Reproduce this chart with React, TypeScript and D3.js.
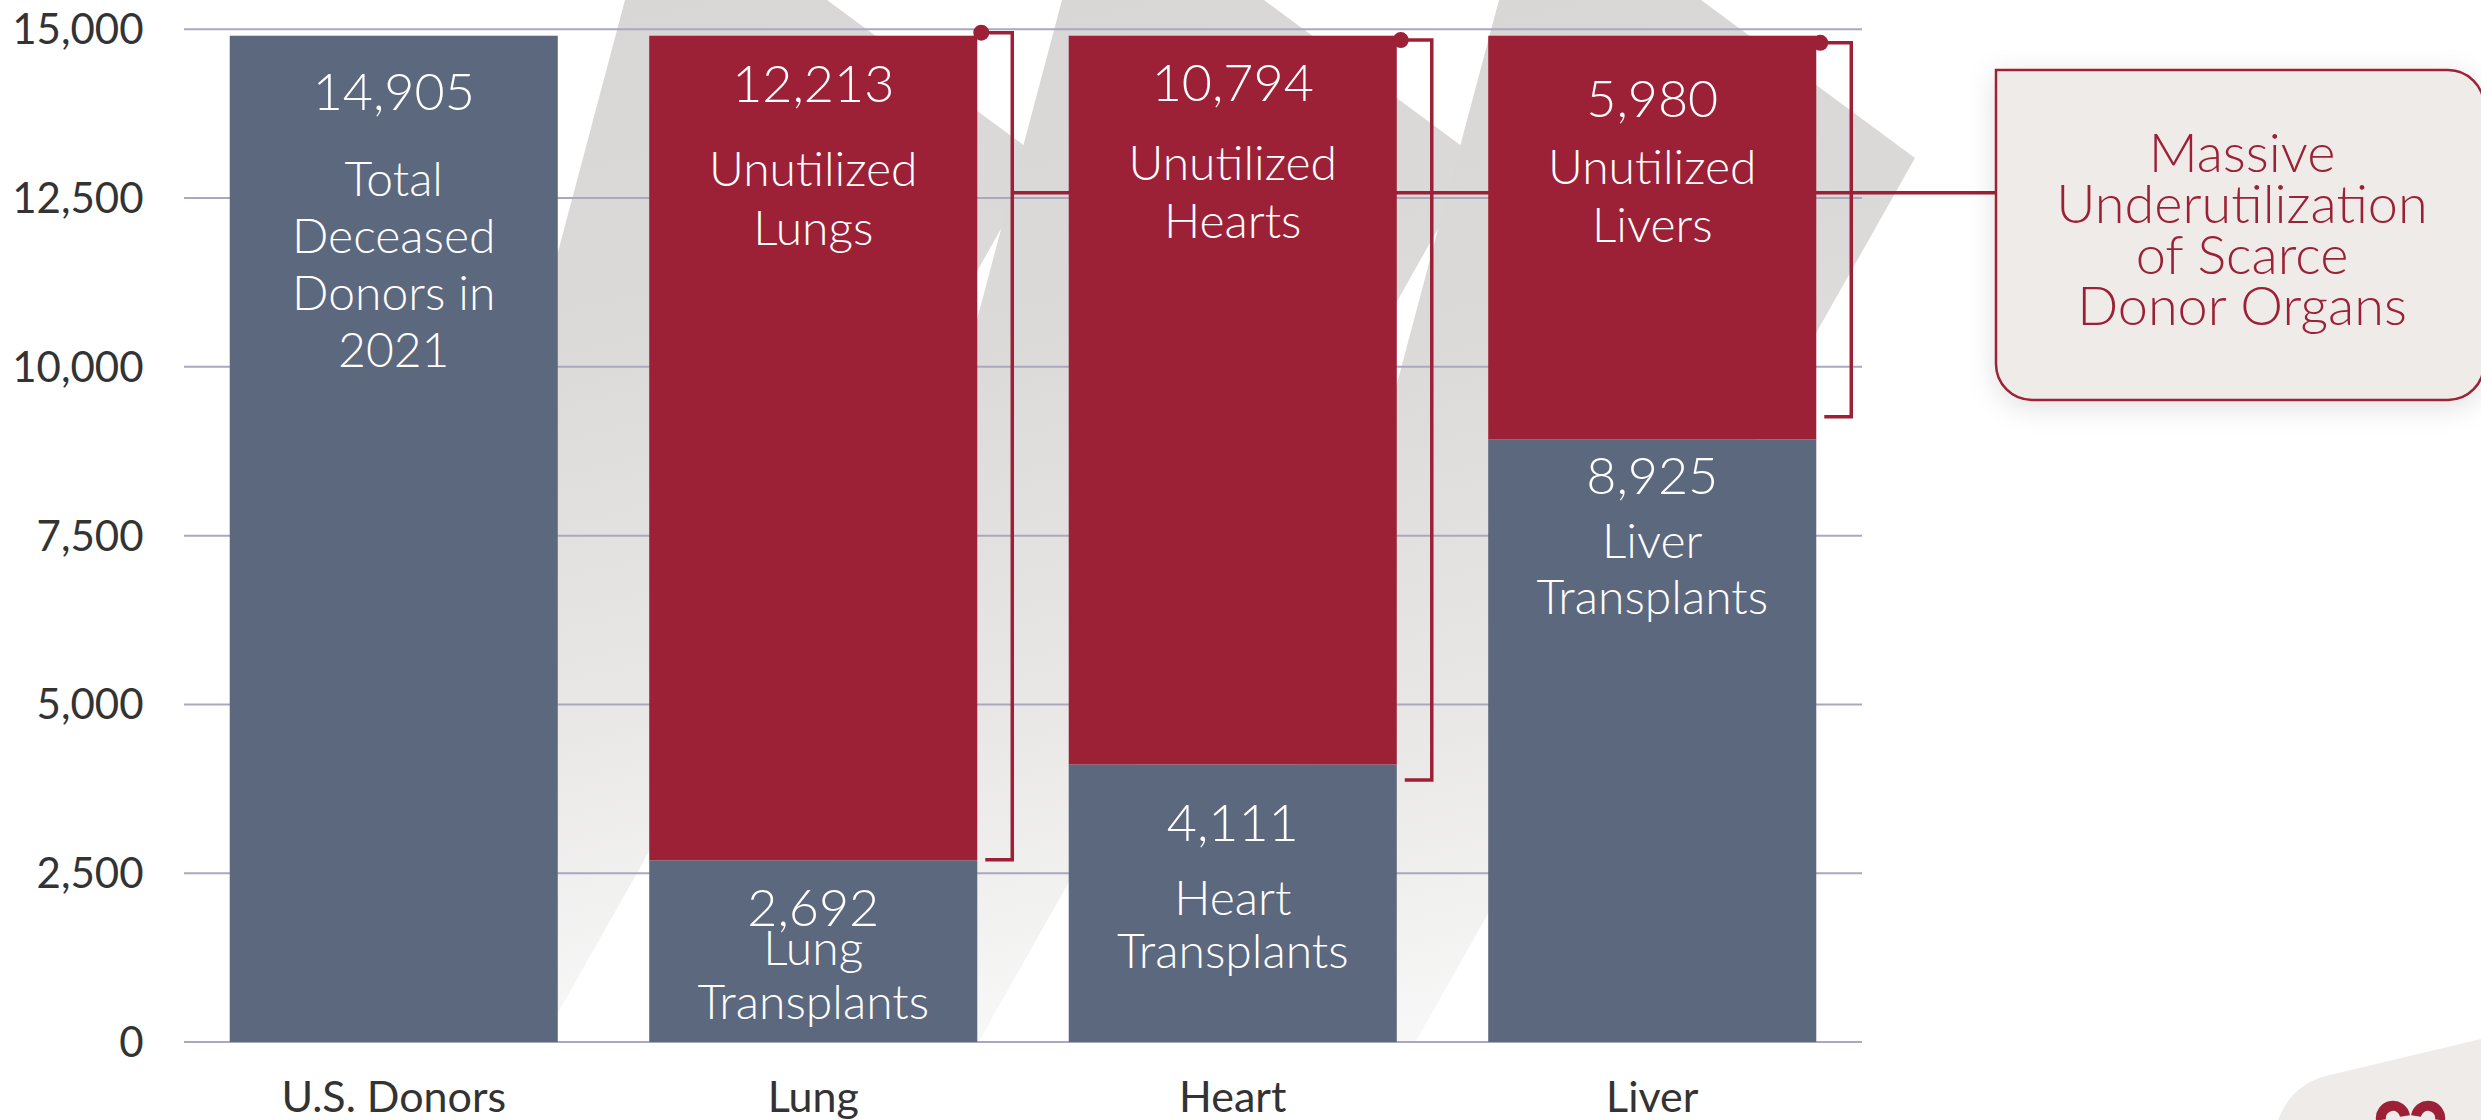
import React, { useEffect, useRef } from 'react'
import * as d3 from 'd3'

// data
const categories = ['U.S. Donors', 'Lung', 'Heart', 'Liver']
const transplanted = [14905, 2692, 4111, 8925]
const unutilized = [0, 12213, 10794, 5980]
const baseLabels = [
  ['Total', 'Deceased', 'Donors in', '2021'],
  ['Lung', 'Transplants'],
  ['Heart', 'Transplants'],
  ['Liver', 'Transplants']
]
const topLabels = [[], ['Unutilized', 'Lungs'], ['Unutilized', 'Hearts'], ['Unutilized', 'Livers']]
const yTicks = [0, 2500, 5000, 7500, 10000, 12500, 15000]

// brackets on the organ bars, in donor units
const bracketTop = [14950, 14840, 14800]
const bracketBottom = [2700, 3880, 9260]
const linkValue = 12580
const calloutLines = ['Massive', 'Underutilization', 'of Scarce', 'Donor Organs']

const W = 2481
const H = 1120
const BLUE = '#5c687e'
const RED = '#9c2136'
const GRID = '#aaa8c0'
const INK = '#333'
const FONT = 'Lato, "Noto Sans", sans-serif'

// where the white labels sit, measured from the top of their segment
const baseLayout = [
  { num: 74, first: 86, gap: 57 },
  { num: 66, first: 39, gap: 54 },
  { num: 77, first: 74, gap: 53 },
  { num: 55, first: 64, gap: 56 }
]
const topLayout = [null, { num: 66, first: 84, gap: 59 }, { num: 65, first: 79, gap: 58 }, { num: 81, first: 67, gap: 58 }]

function drawChart(node: SVGSVGElement) {
  const svg = d3.select(node)
  svg.selectAll('*').remove()

  const x = d3.scaleBand<string>()
    .domain(categories)
    .range([184, 1862])
    .paddingInner(0.218)
    .paddingOuter(0.109)
  const y = d3.scaleLinear().domain([0, 15000]).range([1042, 29.3])
  const bw = x.bandwidth()

  const table = categories.map((c, i) => ({ cat: c, base: transplanted[i], unused: unutilized[i] }))
  const series = d3.stack<any>().keys(['base', 'unused'])(table)

  const defs = svg.append('defs')

  // background chevron stripes
  const stripes = [0, 1, 2].map(i => {
    const L = 625 + 437 * i
    const R = L + 202
    return { L, R, i }
  })
  stripes.forEach(s => {
    const g = defs.append('linearGradient')
      .attr('id', `stripe${s.i}`)
      .attr('gradientUnits', 'userSpaceOnUse')
      .attr('x1', s.L).attr('y1', 0)
      .attr('x2', s.L + 250).attr('y2', 1042)
    g.append('stop').attr('offset', 0).attr('stop-color', '#d9d7d5')
    g.append('stop').attr('offset', 0.3).attr('stop-color', '#dcdad9')
    g.append('stop').attr('offset', 0.65).attr('stop-color', '#e9e8e7')
    g.append('stop').attr('offset', 1).attr('stop-color', '#fcfcfc')
  })
  const shadow = defs.append('filter').attr('id', 'boxShadow')
    .attr('x', '-20%').attr('y', '-20%').attr('width', '140%').attr('height', '140%')
  shadow.append('feDropShadow')
    .attr('dx', 0).attr('dy', 6).attr('stdDeviation', 14)
    .attr('flood-color', '#000').attr('flood-opacity', 0.12)

  const bottom = y(0)
  svg.append('g')
    .selectAll('polygon')
    .data(stripes)
    .join('polygon')
    .attr('points', s => {
      const tipX = s.R + 214
      const tipY = 158
      const pts = [
        [s.L, 0], [s.R, 0], [tipX, tipY],
        [tipX - 0.565 * (bottom - tipY), bottom],
        [s.L - 0.266 * bottom, bottom]
      ]
      return pts.map(p => p.join(',')).join(' ')
    })
    .attr('fill', s => `url(#stripe${s.i})`)

  // gridlines
  svg.append('g')
    .selectAll('line')
    .data(yTicks)
    .join('line')
    .attr('x1', 184).attr('x2', 1862)
    .attr('y1', d => y(d)).attr('y2', d => y(d))
    .attr('stroke', GRID).attr('stroke-width', 2)

  // y tick labels
  svg.append('g')
    .selectAll('text')
    .data(yTicks)
    .join('text')
    .attr('x', 143.5)
    .attr('y', d => y(d) + 15)
    .attr('text-anchor', 'end')
    .attr('font-family', FONT)
    .attr('font-size', 42)
    .attr('fill', INK)
    .text(d => d3.format(',')(d))

  // callout box
  const bx0 = 1996, by0 = 70, bx1 = 2484, by1 = 400, r = 36
  const linkY = y(linkValue)
  svg.append('line')
    .attr('x1', x('Lung')! + bw + 35).attr('x2', bx0)
    .attr('y1', linkY).attr('y2', linkY)
    .attr('stroke', RED).attr('stroke-width', 3.5)

  svg.append('path')
    .attr('d', `M${bx0},${by0} H${bx1 - r} A${r},${r} 0 0 1 ${bx1},${by0 + r} V${by1 - r} A${r},${r} 0 0 1 ${bx1 - r},${by1} H${bx0 + r} A${r},${r} 0 0 1 ${bx0},${by1 - r} Z`)
    .attr('fill', '#efebe8')
    .attr('stroke', RED)
    .attr('stroke-width', 2.5)
    .attr('filter', 'url(#boxShadow)')

  svg.append('g')
    .selectAll('text')
    .data(calloutLines)
    .join('text')
    .attr('x', 2242)
    .attr('y', (d, i) => 172 + i * 51)
    .attr('text-anchor', 'middle')
    .attr('font-family', FONT)
    .attr('font-weight', 300)
    .attr('font-size', 54)
    .attr('fill', RED)
    .text(d => d)

  // stacked bars
  const colors = [BLUE, RED]
  svg.append('g')
    .selectAll('g')
    .data(series)
    .join('g')
    .attr('fill', (d, i) => colors[i])
    .selectAll('rect')
    .data(d => d.filter(v => v[1] - v[0] > 0))
    .join('rect')
    .attr('x', d => x(d.data.cat)!)
    .attr('width', bw)
    .attr('y', d => y(d[1]))
    .attr('height', d => y(d[0]) - y(d[1]))

  // brackets
  const organs = categories.slice(1)
  const br = svg.append('g')
  organs.forEach((c, i) => {
    const xr = x(c)! + bw
    const t = y(bracketTop[i])
    const b = y(bracketBottom[i])
    br.append('path')
      .attr('d', `M${xr + 4},${t} H${xr + 35} V${b} H${xr + 8}`)
      .attr('fill', 'none')
      .attr('stroke', RED)
      .attr('stroke-width', 3.5)
    br.append('circle')
      .attr('cx', xr + 4).attr('cy', t).attr('r', 8)
      .attr('fill', RED)
  })

  // white labels inside the bars
  const lbl = svg.append('g')
    .attr('font-family', FONT)
    .attr('font-weight', 300)
    .attr('fill', '#fff')
    .attr('text-anchor', 'middle')
  const fmt = d3.format(',')
  categories.forEach((c, i) => {
    const cx = x(c)! + bw / 2
    const segs = [
      { top: y(transplanted[i]), value: transplanted[i], lines: baseLabels[i], lay: baseLayout[i] },
      { top: y(transplanted[i] + unutilized[i]), value: unutilized[i], lines: topLabels[i], lay: topLayout[i] }
    ]
    segs.forEach(s => {
      if (!s.lay || s.value <= 0) return
      lbl.append('text')
        .attr('x', cx).attr('y', s.top + s.lay.num)
        .attr('font-size', 52)
        .text(fmt(s.value))
      s.lines.forEach((t, k) => {
        lbl.append('text')
          .attr('x', cx).attr('y', s.top + s.lay.num + s.lay.first + k * s.lay.gap)
          .attr('font-size', 48)
          .text(t)
      })
    })
  })

  // category labels
  svg.append('g')
    .selectAll('text')
    .data(categories)
    .join('text')
    .attr('x', d => x(d)! + bw / 2)
    .attr('y', 1112)
    .attr('text-anchor', 'middle')
    .attr('font-family', FONT)
    .attr('font-size', 43)
    .attr('fill', INK)
    .text(d => d)

  // corner decoration
  svg.append('path')
    .attr('d', 'M2278,1120 Q2292,1083 2330,1075 L2481,1039 V1120 Z')
    .attr('fill', '#efebe8')
  svg.append('path')
    .attr('d', 'M2381,1120 A12,12 0 0 1 2405,1116 M2416,1116 A12,12 0 0 1 2440,1120')
    .attr('fill', 'none')
    .attr('stroke', RED)
    .attr('stroke-width', 10)
}

export default function App() {
  const ref = useRef<SVGSVGElement>(null)

  useEffect(() => {
    if (ref.current) drawChart(ref.current)
  }, [])

  return (
    <svg
      ref={ref}
      width={W}
      height={H}
      style={{ position: 'absolute', left: 0, top: 0, background: '#fff' }}
    />
  )
}
